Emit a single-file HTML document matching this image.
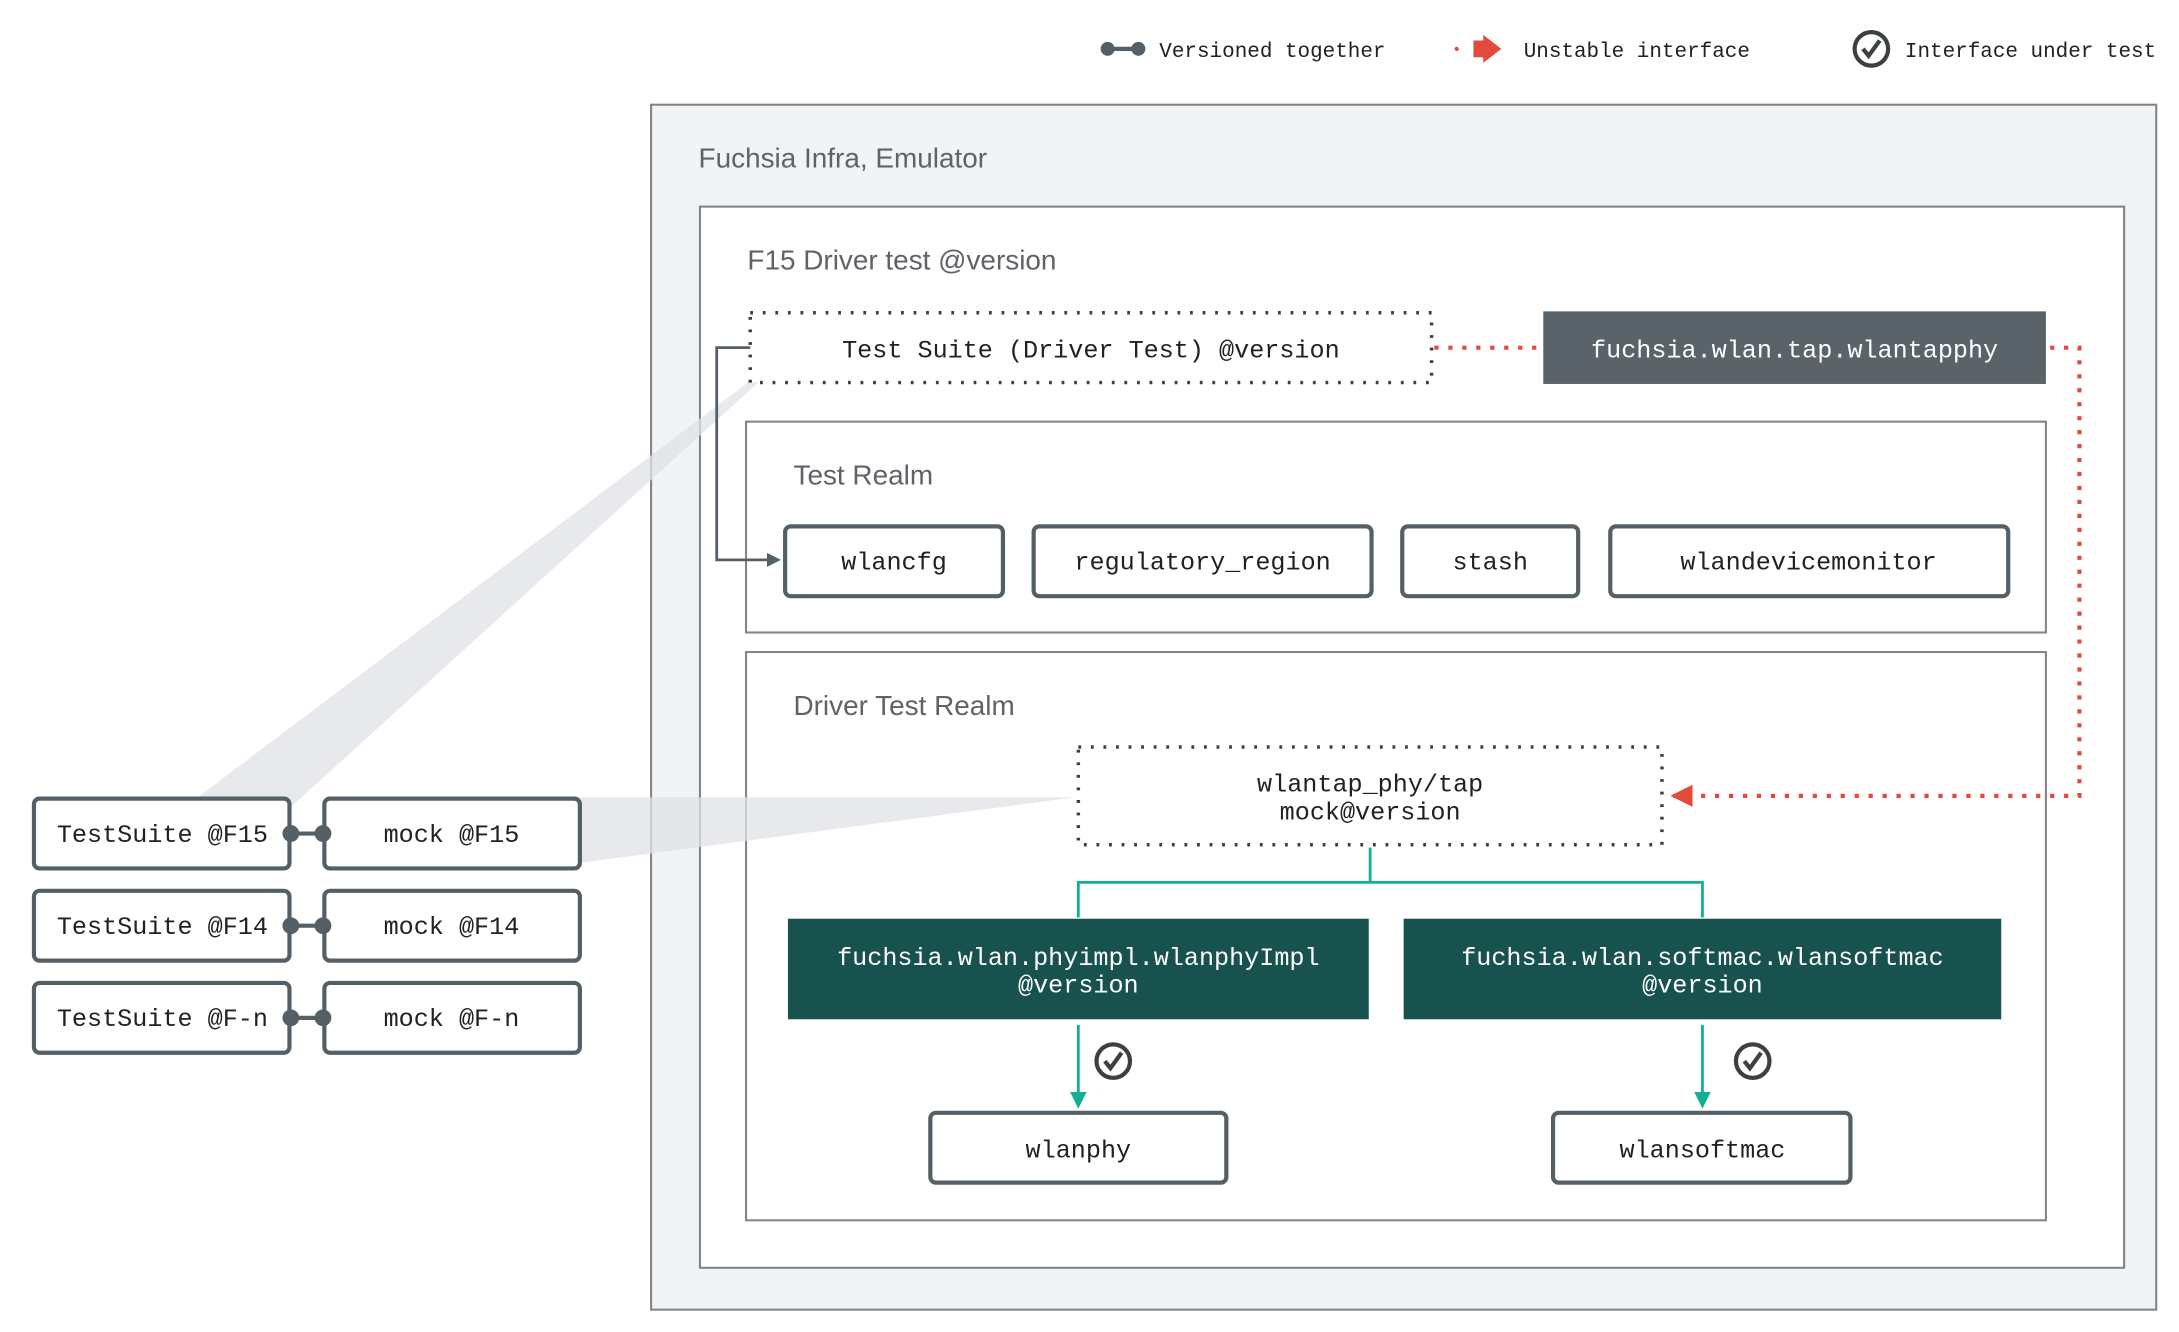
<!DOCTYPE html>
<html><head><meta charset="utf-8"><style>
html,body{margin:0;padding:0;background:#fff;width:2179px;height:1332px;overflow:hidden}
svg{display:block}
.m{font-family:"Liberation Mono",monospace;font-size:18px;fill:#202124}
.s{font-family:"Liberation Sans",sans-serif;font-size:20px;fill:#5f6368}
.n{fill:#fff;stroke:#555f66;stroke-width:3}
</style></head><body>
<svg width="2179" height="1332" viewBox="0 0 1560 954" xmlns="http://www.w3.org/2000/svg">
<defs>
<marker id="ag" markerWidth="10" markerHeight="10" refX="8" refY="5" orient="auto" markerUnits="userSpaceOnUse"><path d="M0,0 L10,5 L0,10z" fill="#555f66"/></marker>
<marker id="at" markerWidth="12" markerHeight="12" refX="10" refY="6" orient="auto" markerUnits="userSpaceOnUse"><path d="M0,0 L12,6 L0,12z" fill="#12b093"/></marker>
<marker id="ar" markerWidth="16" markerHeight="16" refX="14" refY="8" orient="auto" markerUnits="userSpaceOnUse"><path d="M0,0 L16,8 L0,16z" fill="#e24a3b"/></marker>
<g id="chk"><circle r="12" fill="none" stroke="#3c4043" stroke-width="3"/><path d="M-6,0 L-2,5 L6,-6" fill="none" stroke="#3c4043" stroke-width="3"/></g>
</defs>
<!-- legend -->
<line x1="793" y1="35" x2="815" y2="35" stroke="#555f66" stroke-width="3"/>
<circle cx="793" cy="35" r="5" fill="#555f66"/><circle cx="815" cy="35" r="5" fill="#555f66"/>
<text x="830" y="41" class="m" style="font-size:15px">Versioned together</text>
<circle cx="1043" cy="35" r="1.5" fill="#e24a3b"/>
<path d="M1055,29 L1062,29 L1062,25 L1075,35 L1062,45 L1062,41 L1055,41z" fill="#e24a3b"/>
<text x="1091" y="41" class="m" style="font-size:15px">Unstable interface</text>
<use href="#chk" x="1340" y="35"/>
<text x="1364" y="41" class="m" style="font-size:15px">Interface under test</text>
<!-- outer -->
<rect x="466" y="75" width="1078" height="863" fill="#f1f3f4" stroke="#80868b" stroke-width="1.5"/>
<text x="500" y="120" class="s">Fuchsia Infra, Emulator</text>
<rect x="501" y="148" width="1020" height="760" fill="#fff" stroke="#80868b" stroke-width="1.5"/>
<text x="535" y="193" class="s">F15 Driver test @version</text>
<!-- test realm -->
<rect x="534" y="302" width="931" height="151" fill="#fff" stroke="#80868b" stroke-width="1.5"/>
<text x="568" y="347" class="s">Test Realm</text>
<rect x="534" y="467" width="931" height="407" fill="#fff" stroke="#80868b" stroke-width="1.5"/>
<text x="568" y="512" class="s">Driver Test Realm</text>
<!-- zoom wedges -->
<polygon points="140,572 208,578 545,272 538,272" fill="#dfe2e5" opacity="0.75"/>
<polygon points="415,571 770,571 415,618" fill="#dfe2e5" opacity="0.75"/>
<!-- test suite -->
<rect x="537" y="224" width="488" height="50" fill="#fff" stroke="#3c4043" stroke-width="2.5" stroke-dasharray="2 7"/>
<text x="781" y="256" class="m" text-anchor="middle">Test Suite (Driver Test) @version</text>
<polyline points="537,249 513,249 513,401 557,401" fill="none" stroke="#555f66" stroke-width="2" marker-end="url(#ag)"/>
<rect x="1105" y="223" width="360" height="52" fill="#5a6369"/>
<text x="1285" y="256" class="m" text-anchor="middle" style="fill:#fff">fuchsia.wlan.tap.wlantapphy</text>
<line x1="1027" y1="249" x2="1104" y2="249" stroke="#e24a3b" stroke-width="3" stroke-dasharray="3 7"/>
<polyline points="1468,249 1489,249 1489,570 1198,570" fill="none" stroke="#e24a3b" stroke-width="3" stroke-dasharray="3 7" marker-end="url(#ar)"/>
<!-- realm nodes -->
<rect x="562" y="377" width="156" height="50" rx="4" class="n"/><text x="640" y="408" class="m" text-anchor="middle">wlancfg</text>
<rect x="740" y="377" width="242" height="50" rx="4" class="n"/><text x="861" y="408" class="m" text-anchor="middle">regulatory_region</text>
<rect x="1004" y="377" width="126" height="50" rx="4" class="n"/><text x="1067" y="408" class="m" text-anchor="middle">stash</text>
<rect x="1153" y="377" width="285" height="50" rx="4" class="n"/><text x="1295" y="408" class="m" text-anchor="middle">wlandevicemonitor</text>
<!-- driver realm -->
<rect x="772" y="535" width="418" height="70" fill="#fff" stroke="#3c4043" stroke-width="2.5" stroke-dasharray="2 7"/>
<text x="981" y="567" class="m" text-anchor="middle">wlantap_phy/tap</text>
<text x="981" y="587" class="m" text-anchor="middle">mock@version</text>
<polyline points="981,607 981,632" fill="none" stroke="#12b093" stroke-width="2"/>
<polyline points="772,657 772,632 1219,632 1219,657" fill="none" stroke="#12b093" stroke-width="2"/>
<rect x="564" y="658" width="416" height="72" fill="#17524f"/>
<text x="772" y="691" class="m" text-anchor="middle" style="fill:#fff">fuchsia.wlan.phyimpl.wlanphyImpl</text>
<text x="772" y="711" class="m" text-anchor="middle" style="fill:#fff">@version</text>
<rect x="1005" y="658" width="428" height="72" fill="#17524f"/>
<text x="1219" y="691" class="m" text-anchor="middle" style="fill:#fff">fuchsia.wlan.softmac.wlansoftmac</text>
<text x="1219" y="711" class="m" text-anchor="middle" style="fill:#fff">@version</text>
<line x1="772" y1="734" x2="772" y2="792" stroke="#12b093" stroke-width="2" marker-end="url(#at)"/>
<line x1="1219" y1="734" x2="1219" y2="792" stroke="#12b093" stroke-width="2" marker-end="url(#at)"/>
<use href="#chk" x="797" y="760"/><use href="#chk" x="1255" y="760"/>
<rect x="666" y="797" width="212" height="50" rx="4" class="n"/><text x="772" y="829" class="m" text-anchor="middle">wlanphy</text>
<rect x="1112" y="797" width="213" height="50" rx="4" class="n"/><text x="1219" y="829" class="m" text-anchor="middle">wlansoftmac</text>
<!-- left -->
<g>
<rect x="24" y="572" width="183" height="50" rx="4" class="n"/><text x="116" y="603" class="m" text-anchor="middle">TestSuite @F15</text>
<rect x="232" y="572" width="183" height="50" rx="4" class="n"/><text x="323" y="603" class="m" text-anchor="middle">mock @F15</text>
<rect x="24" y="638" width="183" height="50" rx="4" class="n"/><text x="116" y="669" class="m" text-anchor="middle">TestSuite @F14</text>
<rect x="232" y="638" width="183" height="50" rx="4" class="n"/><text x="323" y="669" class="m" text-anchor="middle">mock @F14</text>
<rect x="24" y="704" width="183" height="50" rx="4" class="n"/><text x="116" y="735" class="m" text-anchor="middle">TestSuite @F-n</text>
<rect x="232" y="704" width="183" height="50" rx="4" class="n"/><text x="323" y="735" class="m" text-anchor="middle">mock @F-n</text>
<g fill="#555f66" stroke="#555f66" stroke-width="3">
<line x1="208" y1="597" x2="231" y2="597"/><circle cx="208" cy="597" r="4.5"/><circle cx="231" cy="597" r="4.5"/>
<line x1="208" y1="663" x2="231" y2="663"/><circle cx="208" cy="663" r="4.5"/><circle cx="231" cy="663" r="4.5"/>
<line x1="208" y1="729" x2="231" y2="729"/><circle cx="208" cy="729" r="4.5"/><circle cx="231" cy="729" r="4.5"/>
</g>
</g>
</svg>
</body></html>
